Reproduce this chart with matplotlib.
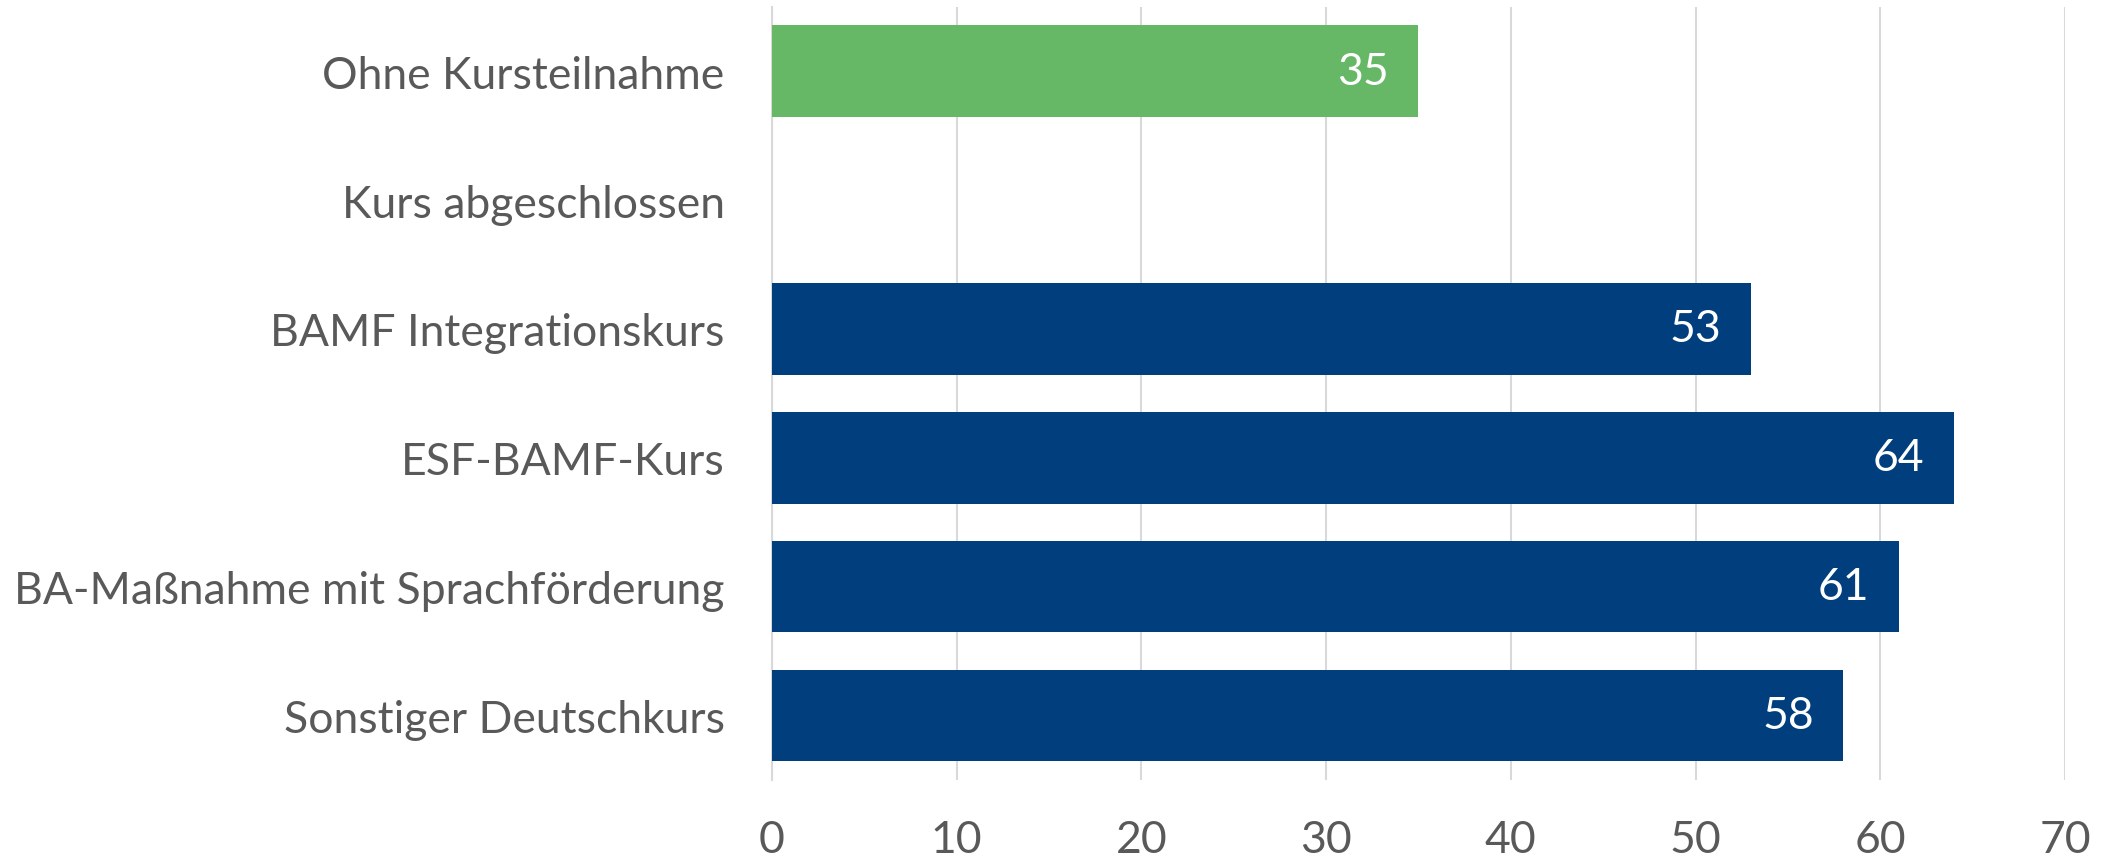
import matplotlib.pyplot as plt
import numpy as np

plt.rcParams['font.family'] = ['Lato', 'DejaVu Sans']

categories = ['Ohne Kursteilnahme', 'Kurs abgeschlossen', 'BAMF Integrationskurs',
              'ESF-BAMF-Kurs', 'BA-Maßnahme mit Sprachförderung', 'Sonstiger Deutschkurs']
values = [35, None, 53, 64, 61, 58]
colors = ['#66B866', '#003E7E', '#003E7E', '#003E7E', '#003E7E', '#003E7E']
x_ticks = [0, 10, 20, 30, 40, 50, 60, 70]

text_color = '#595959'
fs = 32

fig = plt.figure(figsize=(21.05, 8.62), dpi=100)
ax = fig.add_axes([0.3667, 0.094, 0.6143, 0.897])

y = np.arange(len(categories))
for yi, v, c in zip(y, values, colors):
    if v is None:
        continue
    ax.barh(yi, v, height=0.71, color=c, zorder=3)
    ax.text(v - 1.6, yi, str(v), ha='right', va='center', color='white', fontsize=fs, zorder=4)

ax.set_ylim(len(categories) - 0.5, -0.5)
ax.set_xlim(0, 70)
ax.set_yticks(y)
ax.set_yticklabels(categories, fontsize=fs, color=text_color)
ax.set_xticks(x_ticks)
ax.set_xticklabels([str(t) for t in x_ticks], fontsize=fs, color=text_color)
ax.tick_params(axis='both', length=0)
ax.tick_params(axis='y', pad=34)
ax.tick_params(axis='x', pad=28)
ax.grid(axis='x', color='#D9D9D9', linewidth=1.5, zorder=0)
for s in ['top', 'right', 'bottom']:
    ax.spines[s].set_visible(False)
ax.spines['left'].set_color('#D9D9D9')
ax.spines['left'].set_linewidth(1.5)

fig.savefig('out.png', dpi=100)
